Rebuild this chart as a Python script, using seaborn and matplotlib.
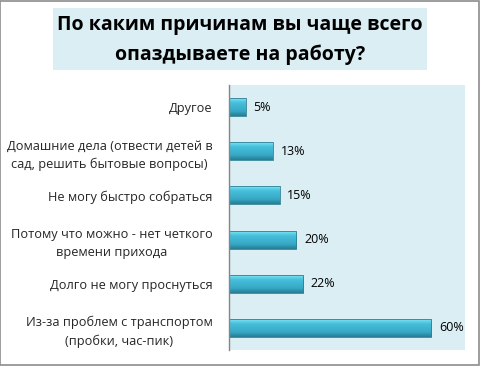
import numpy as np
import pandas as pd
import matplotlib
matplotlib.use("Agg")
import matplotlib.pyplot as plt
import seaborn as sns
from matplotlib.colors import LinearSegmentedColormap
from matplotlib.patches import Rectangle

categories = [
    "Другое",
    "Домашние дела (отвести детей в\nсад, решить бытовые вопросы)",
    "Не могу быстро собраться",
    "Потому что можно - нет четкого\nвремени прихода",
    "Долго не могу проснуться",
    "Из-за проблем с транспортом\n(пробки, час-пик)",
]
values = [5, 13, 15, 20, 22, 60]
value_labels = ["5%", "13%", "15%", "20%", "22%", "60%"]
title = "По каким причинам вы чаще всего\nопаздываете на работу?"

sns.set_theme(style="white")
plt.rcParams["font.family"] = ["Open Sans", "DejaVu Sans"]

df = pd.DataFrame({"cat": categories, "val": values})

fig = plt.figure(figsize=(4.81, 3.66), dpi=100)
fig.patch.set_facecolor("white")

# outer border
fig.add_artist(Rectangle((0.001, 0.003), 0.995, 0.995, transform=fig.transFigure,
                         fill=False, edgecolor="#8c8c8c", linewidth=1.2))
# title box
fig.add_artist(Rectangle((53 / 481, 1 - 70 / 366), 374 / 481, 62 / 366,
                         transform=fig.transFigure, facecolor="#DAEEF3",
                         edgecolor="none"))
fig.text(240 / 481, 1 - 40 / 366, title, ha="center", va="center",
         fontsize=14, fontweight="bold", color="black", linespacing=1.6)

ax = fig.add_axes([229 / 481, 16 / 366, 236 / 481, 265 / 366])
ax.set_facecolor("#DBEEF3")

sns.barplot(data=df, x="val", y="cat", ax=ax, orient="h", width=0.41,
            color="#3CB2CE", edgecolor="#2E7F93", linewidth=0.6, saturation=1)

cmap = LinearSegmentedColormap.from_list(
    "cyl", [(0.0, "#A5F0FC"), (0.14, "#66D6EC"), (0.3, "#47BFDA"),
            (0.75, "#36A8C5"), (1.0, "#287C93")])
grad = np.linspace(0, 1, 64).reshape(-1, 1)
for p in ax.patches:
    x0, y0 = p.get_x(), p.get_y()
    w, h = p.get_width(), p.get_height()
    im = ax.imshow(grad, cmap=cmap, aspect="auto",
                   extent=(x0, x0 + w, y0 + h, y0), zorder=p.get_zorder() + 0.1,
                   interpolation="bilinear")
    im.set_clip_path(p)
    p.set_zorder(p.get_zorder() + 0.2)
    p.set_facecolor("none")

for i, (v, lab) in enumerate(zip(values, value_labels)):
    ax.text(v + 2.3, i, lab, va="center", ha="left", fontsize=9, color="black")

ax.set_xlim(0, 70)
ax.set_ylim(5.5, -0.5)
ax.set_xlabel("")
ax.set_ylabel("")
ax.set_xticks([])
for s in ["top", "right", "bottom"]:
    ax.spines[s].set_visible(False)
ax.spines["left"].set_color("#868686")
ax.spines["left"].set_linewidth(1.0)
ax.tick_params(axis="y", length=0, pad=12, labelsize=9.2)
for t in ax.get_yticklabels():
    t.set_multialignment("center")
    t.set_linespacing(1.5)

fig.savefig("out.png", dpi=100)
